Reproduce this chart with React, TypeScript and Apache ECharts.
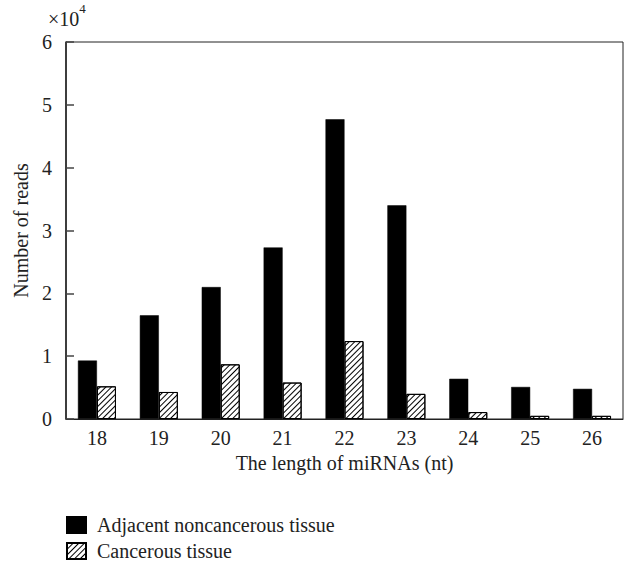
import React, { useEffect, useRef } from "react";
import * as echarts from "echarts";

const categories = ["18", "19", "20", "21", "22", "23", "24", "25", "26"];
const adjacentValues = [0.93, 1.65, 2.1, 2.73, 4.77, 3.4, 0.64, 0.51, 0.48];
const cancerValues = [0.52, 0.43, 0.87, 0.58, 1.24, 0.4, 0.11, 0.05, 0.05];
const seriesNames = ["Adjacent noncancerous tissue", "Cancerous tissue"];

const FONT = "'Liberation Serif', 'DejaVu Serif', serif";
const FS = 20;

export default function App() {
  const ref = useRef<HTMLDivElement>(null);
  useEffect(() => {
    document.body.style.margin = "0";
    if (!ref.current) return;
    const chart = echarts.init(ref.current, null, { renderer: "svg" });
    chart.setOption({
      animation: false,
      backgroundColor: "#fff",
      textStyle: { fontFamily: FONT, color: "#222" },
      grid: {
        left: 66,
        right: 1,
        top: 42,
        bottom: 150,
        show: true,
        borderColor: "#222",
        borderWidth: 1,
      },
      legend: {
        orient: "vertical",
        left: 66,
        top: 515,
        itemWidth: 19,
        itemHeight: 16,
        itemGap: 6,
        icon: "rect",
        padding: 0,
        textStyle: { fontFamily: FONT, fontSize: FS, color: "#222", padding: [0, 0, 0, 6] },
        data: seriesNames,
      },
      graphic: [
        {
          type: "text",
          left: 48,
          top: 2,
          style: {
            text: "{a|×10}{b|4}",
            rich: {
              a: { fontFamily: FONT, fontSize: FS, fill: "#222", padding: [7, 0, 0, 0] },
              b: { fontFamily: FONT, fontSize: 13, fill: "#222", verticalAlign: "top" },
            },
          },
        },
      ],
      xAxis: {
        type: "category",
        data: categories,
        name: "The length of miRNAs (nt)",
        nameLocation: "middle",
        nameGap: 33,
        nameTextStyle: { fontFamily: FONT, fontSize: FS, color: "#222" },
        axisLine: { lineStyle: { color: "#222", width: 1 } },
        axisTick: { inside: true, length: 8, lineStyle: { color: "#222" } },
        axisLabel: { fontFamily: FONT, fontSize: FS, color: "#222", margin: 9 },
      },
      yAxis: {
        type: "value",
        min: 0,
        max: 6,
        interval: 1,
        name: "Number of reads",
        nameLocation: "middle",
        nameGap: 35,
        nameTextStyle: { fontFamily: FONT, fontSize: FS, color: "#222" },
        axisLine: { show: true, lineStyle: { color: "#222", width: 1.5 } },
        axisTick: { show: true, inside: true, length: 8, lineStyle: { color: "#444", width: 1.5 } },
        axisLabel: { fontFamily: FONT, fontSize: FS, color: "#222", margin: 14 },
        splitLine: { show: false },
      },
      series: [
        {
          name: seriesNames[0],
          type: "bar",
          data: adjacentValues,
          barWidth: 19,
          barGap: "0%",
          itemStyle: { color: "#000", borderColor: "#000", borderWidth: 0.5 },
        },
        {
          name: seriesNames[1],
          type: "bar",
          data: cancerValues,
          barWidth: 19,
          barGap: "0%",
          itemStyle: {
            color: "#fff",
            borderColor: "#000",
            borderWidth: 1,
            decal: {
              symbol: "rect",
              symbolSize: 1,
              color: "#000",
              backgroundColor: "#fff",
              dashArrayX: [1, 0],
              dashArrayY: [1, 2.5],
              rotation: -Math.PI / 4,
            },
          },
        },
      ],
    });
    return () => chart.dispose();
  }, []);
  return <div ref={ref} style={{ width: 624, height: 569 }} />;
}
